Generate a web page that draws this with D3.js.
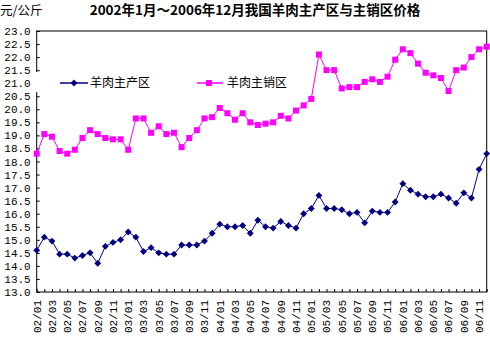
<!DOCTYPE html>
<html><head><meta charset="utf-8">
<script src="https://cdn.jsdelivr.net/npm/d3@7"></script>
<style>body{margin:0;background:#fff}svg{display:block}</style>
</head><body><svg id="c" width="490" height="338"></svg>
<script>
const months = ["02/01","02/02","02/03","02/04","02/05","02/06","02/07","02/08","02/09","02/10","02/11","02/12",
"03/01","03/02","03/03","03/04","03/05","03/06","03/07","03/08","03/09","03/10","03/11","03/12",
"04/01","04/02","04/03","04/04","04/05","04/06","04/07","04/08","04/09","04/10","04/11","04/12",
"05/01","05/02","05/03","05/04","05/05","05/06","05/07","05/08","05/09","05/10","05/11","05/12",
"06/01","06/02","06/03","06/04","06/05","06/06","06/07","06/08","06/09","06/10","06/11","06/12"];
const producing = [14.6,15.1,14.95,14.45,14.45,14.3,14.4,14.5,14.1,14.75,14.9,15.0,15.3,15.1,14.55,14.7,14.5,14.45,14.45,
14.8,14.8,14.8,14.95,15.25,15.6,15.5,15.5,15.55,15.25,15.75,15.5,15.45,15.7,15.55,15.45,16.0,16.2,16.7,16.2,
16.2,16.15,16.0,16.05,15.65,16.1,16.05,16.05,16.45,17.15,16.9,16.75,16.65,16.65,16.75,16.6,16.4,16.8,16.6,17.7,18.3];
const selling = [18.3,19.05,18.95,18.4,18.3,18.45,18.9,19.2,19.05,18.9,18.85,18.85,18.45,19.65,19.65,19.1,19.35,19.05,19.1,
18.55,18.9,19.2,19.65,19.7,20.05,19.85,19.6,19.85,19.5,19.4,19.45,19.5,19.75,19.65,19.95,20.15,20.4,22.1,21.5,
21.5,20.8,20.85,20.85,21.05,21.15,21.05,21.25,21.9,22.3,22.15,21.75,21.4,21.3,21.2,20.7,21.5,21.6,22.0,22.3,22.4];
const yTicks = [13.0,13.5,14.0,14.5,15.0,15.5,16.0,16.5,17.0,17.5,18.0,18.5,19.0,19.5,20.0,20.5,21.0,21.5,22.0,22.5,23.0];
const seriesNames = ["羊肉主产区","羊肉主销区"];
const titleText = "2002年1月～2006年12月我国羊肉主产区与主销区价格";
const unitText = "元/公斤";

const svg = d3.select("#c");
const L = 36.7, R = 486.7, T = 31, B = 292;
const x = d3.scalePoint().domain(months).range([L, R]);
const y = d3.scaleLinear().domain([13, 23]).range([B, T]);
const mono = "'Liberation Mono','DejaVu Sans Mono',monospace";
const cjk = "'Noto Sans CJK SC','Noto Sans',sans-serif";

// frame
svg.append("rect").attr("x", L).attr("y", T).attr("width", R - L).attr("height", B - T)
  .attr("fill", "none").attr("stroke", "#000").attr("stroke-width", 1);

// y axis
const ya = svg.append("g").attr("transform", `translate(${L},0)`)
  .call(d3.axisLeft(y).tickValues(yTicks).tickSize(-3).tickPadding(6).tickFormat(d3.format(".1f")));
ya.select(".domain").remove();
ya.selectAll("text").attr("font-family", mono).attr("font-size", 11).attr("fill", "#000");
ya.selectAll("line").attr("stroke", "#000");

// x axis
const xa = svg.append("g").attr("transform", `translate(0,${B})`)
  .call(d3.axisBottom(x).tickSize(-3).tickFormat(() => ""));
xa.select(".domain").remove();
xa.selectAll("line").attr("stroke", "#000");
svg.append("g").selectAll("text").data(months.filter((d, i) => i % 2 === 0)).join("text")
  .attr("transform", d => `translate(${x(d)},${B + 8}) rotate(-90)`)
  .attr("text-anchor", "end").attr("dy", "0.35em")
  .attr("font-family", mono).attr("font-size", 11).attr("fill", "#000")
  .text(d => d);

// series
const line = d3.line().x((d, i) => x(months[i])).y(d => y(d));
svg.append("path").datum(selling).attr("d", line).attr("fill", "none").attr("stroke", "#FF00FF").attr("stroke-width", 1);
svg.append("path").datum(producing).attr("d", line).attr("fill", "none").attr("stroke", "#000080").attr("stroke-width", 1);
svg.append("g").selectAll("rect").data(selling).join("rect")
  .attr("x", (d, i) => x(months[i]) - 3).attr("y", d => y(d) - 3)
  .attr("width", 6).attr("height", 6).attr("fill", "#FF00FF");
const diamond = d3.symbol().type(d3.symbolDiamond2).size(30);
svg.append("g").selectAll("path").data(producing).join("path")
  .attr("transform", (d, i) => `translate(${x(months[i])},${y(d)})`)
  .attr("d", diamond).attr("fill", "#000080");

// legend (white box covering axis)
const lg = svg.append("g");
lg.append("rect").attr("x", 33).attr("y", 72).attr("width", 270).attr("height", 20).attr("fill", "#fff");
lg.append("line").attr("x1", 60).attr("x2", 88).attr("y1", 83).attr("y2", 83).attr("stroke", "#000080").attr("stroke-width", 1.5);
lg.append("path").attr("transform", "translate(74,83)").attr("d", diamond).attr("fill", "#000080");
lg.append("text").attr("x", 90).attr("y", 83).attr("dy", "0.35em").attr("font-family", cjk).attr("font-size", 12).attr("fill", "#000").text(seriesNames[0]);
lg.append("line").attr("x1", 197).attr("x2", 223).attr("y1", 83).attr("y2", 83).attr("stroke", "#FF00FF").attr("stroke-width", 1.5);
lg.append("rect").attr("x", 206).attr("y", 80).attr("width", 6).attr("height", 6).attr("fill", "#FF00FF");
lg.append("text").attr("x", 227).attr("y", 83).attr("dy", "0.35em").attr("font-family", cjk).attr("font-size", 12).attr("fill", "#000").text(seriesNames[1]);

// titles
svg.append("text").attr("x", 255).attr("y", 15).attr("text-anchor", "middle")
  .attr("font-family", cjk).attr("font-weight", "bold").attr("font-size", 13.5).attr("fill", "#000").text(titleText);
svg.append("text").attr("x", 0).attr("y", 15)
  .attr("font-family", cjk).attr("font-size", 12.5).attr("fill", "#000").text(unitText);
</script></body></html>
